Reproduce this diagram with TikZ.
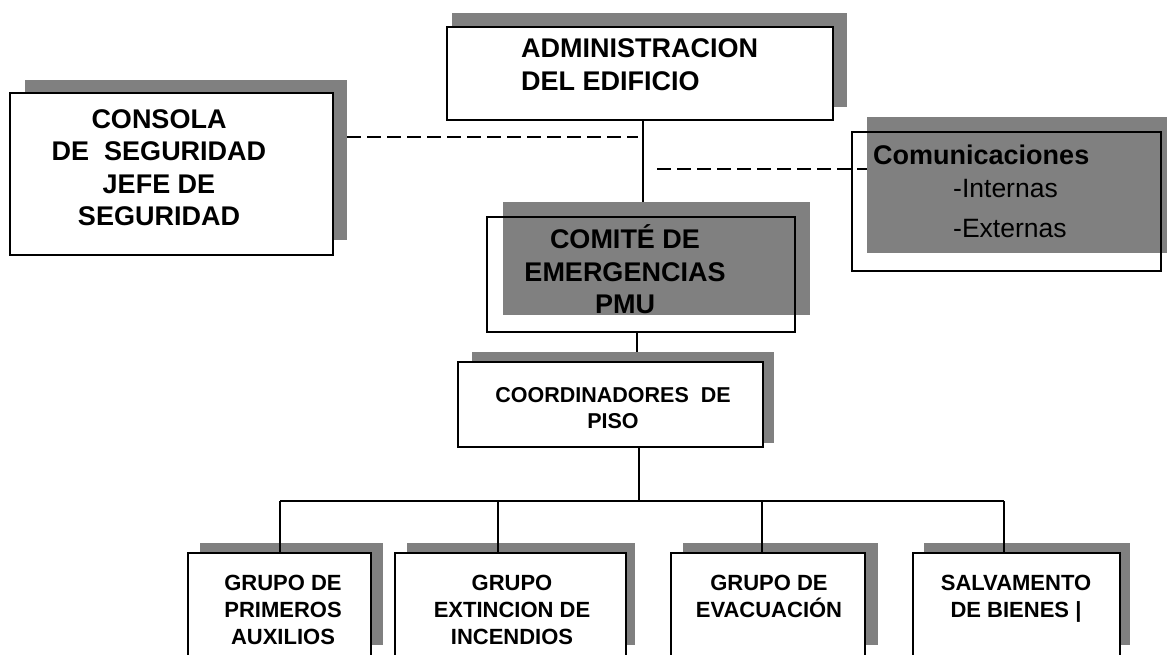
\documentclass[tikz,border=0pt]{standalone}
\usepackage{fontspec}
\setmainfont{Liberation Sans}
\definecolor{shade}{RGB}{128,128,128}
\tikzset{
  box/.style={draw=black, line width=1.2pt, fill=white, inner sep=0pt},
  openbox/.style={draw=black, line width=1.2pt, inner sep=0pt},
  shadowbox/.style={fill=shade, draw=none, inner sep=0pt},
  txt/.style={inner sep=0pt, align=center, text=black},
  bigtxt/.style={txt, font=\fontsize{27}{32.5}\selectfont\bfseries},
  regtxt/.style={txt, font=\fontsize{26.5}{32.5}\selectfont},
  medtxt/.style={txt, font=\fontsize{21.5}{26}\selectfont\bfseries},
  smalltxt/.style={txt, font=\fontsize{22}{27}\selectfont\bfseries},
  link/.style={draw=black, line width=1.2pt},
  dlink/.style={link, dash pattern=on 14pt off 6pt},
}
\begin{document}
\begin{tikzpicture}[x=1pt,y=-1pt]
\useasboundingbox (0,0) rectangle (1167,654);
\clip (0,0) rectangle (1167,654);
\fill[white] (0,0) rectangle (1167,654);
% shadows
\node[shadowbox, minimum width=395pt, minimum height=94pt]  (shA) at (649.5,60) {};
\node[shadowbox, minimum width=322pt, minimum height=160pt] (shC) at (186,160) {};
\node[shadowbox, minimum width=307pt, minimum height=113pt] (shM) at (656.5,258.5) {};
\node[shadowbox, minimum width=309pt, minimum height=136pt] (shK) at (1021.5,185) {};
\node[shadowbox, minimum width=302pt, minimum height=91pt]  (shP) at (623,397.5) {};
\node[shadowbox, minimum width=183pt, minimum height=102pt] (shG1) at (291.5,594) {};
\node[shadowbox, minimum width=228pt, minimum height=102pt] (shG2) at (521,594) {};
\node[shadowbox, minimum width=195pt, minimum height=102pt] (shG3) at (780.5,594) {};
\node[shadowbox, minimum width=206pt, minimum height=102pt] (shG4) at (1027,594) {};
% boxes
\node[box, minimum width=386pt, minimum height=93pt]  (admin) at (640,73.5) {};
\node[box, minimum width=323pt, minimum height=162pt] (consola) at (171.5,174) {};
\node[openbox, minimum width=308pt, minimum height=115pt] (comite) at (641,274.5) {};
\node[openbox, minimum width=309pt, minimum height=139pt] (comm) at (1006.5,201.5) {};
\node[box, minimum width=305pt, minimum height=85pt]  (coord) at (610.5,404.5) {};
\node[box, minimum width=183pt, minimum height=147pt] (g1) at (279.5,626.5) {};
\node[box, minimum width=231pt, minimum height=147pt] (g2) at (510.5,626.5) {};
\node[box, minimum width=194pt, minimum height=147pt] (g3) at (768,626.5) {};
\node[box, minimum width=207pt, minimum height=147pt] (g4) at (1016.5,626.5) {};
% texts
\node[bigtxt, anchor=west, align=left] (tA) at (521,64.5) {ADMINISTRACION\\DEL EDIFICIO};
\node[bigtxt] (tC) at (159,167.5) {CONSOLA\\DE\ \ SEGURIDAD\\JEFE DE\\SEGURIDAD};
\node[bigtxt] (tM) at (625,269.5) {COMITÉ DE\\EMERGENCIAS\\PMU};
\node[bigtxt, anchor=base west] (k1) at (873,164) {Comunicaciones};
\node[regtxt, anchor=base west] (k2) at (953,197) {-Internas};
\node[regtxt, anchor=base west] (k3) at (953,237) {-Externas};
\node[medtxt] (tP) at (613,408) {COORDINADORES\ \ DE\\PISO};
\node[smalltxt] (t1) at (283,609.5) {GRUPO DE\\PRIMEROS\\AUXILIOS};
\node[smalltxt] (t2) at (512,609.5) {GRUPO\\EXTINCION DE\\INCENDIOS};
\node[smalltxt] (t3) at (769,596.5) {GRUPO DE\\EVACUACIÓN};
\node[smalltxt] (t4) at (1016,598.5) {SALVAMENTO\\DE BIENES |};
% connectors
\draw[link] ([xshift=3pt]admin.south) -- ([xshift=3pt]admin.south |- shM.north);
\coordinate (dl) at (638,137);
\draw[dlink] (shC.east |- dl) -- (dl);
\coordinate (dr) at (657,169);
\draw[dlink] (dr) -- (dr -| shK.west);
\draw[link] ([xshift=-4pt]comite.south) -- ([xshift=-4pt]comite.south |- shP.north);
\coordinate (trunk) at (639,501);
\draw[link] (trunk |- coord.south) -- (trunk);
\coordinate (b1) at (280,501);
\coordinate (b2) at (498,501);
\coordinate (b3) at (762,501);
\coordinate (b4) at (1004,501);
\draw[link] (b1) -- (b4);
\draw[link] (b1) -- (b1 |- g1.north);
\draw[link] (b2) -- (b2 |- g2.north);
\draw[link] (b3) -- (b3 |- g3.north);
\draw[link] (b4) -- (b4 |- g4.north);
\end{tikzpicture}
\end{document}
